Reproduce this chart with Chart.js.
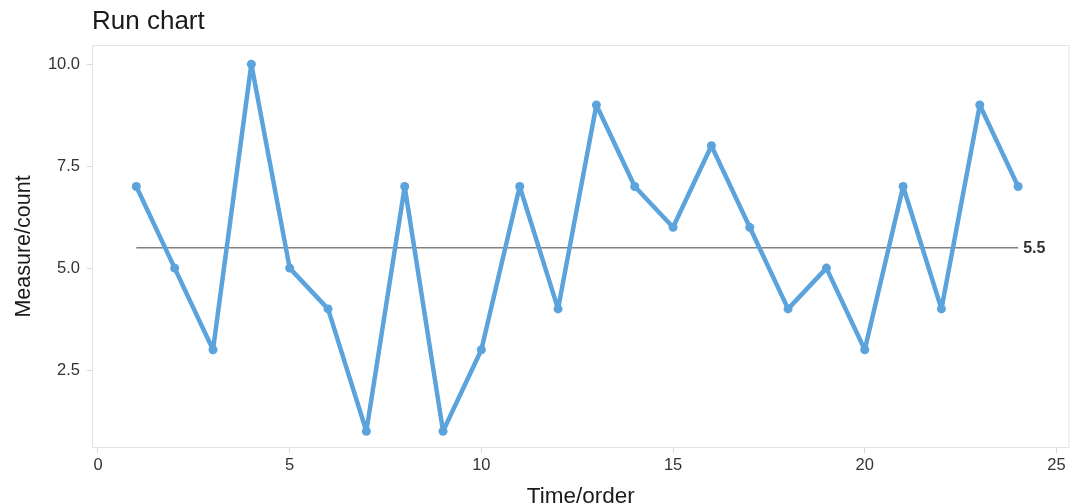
<!DOCTYPE html>
<html>
<head>
<meta charset="utf-8">
<script src="https://cdn.jsdelivr.net/npm/chart.js@4"></script>
<style>
  html, body { margin: 0; padding: 0; background: #fff; }
  #wrap { width: 1074px; height: 504px; }
</style>
</head>
<body>
<div id="wrap"><canvas id="c"></canvas></div>
<script>
const order = [1,2,3,4,5,6,7,8,9,10,11,12,13,14,15,16,17,18,19,20,21,22,23,24];
const measure = [7,5,3,10,5,4,1,7,1,3,7,4,9,7,6,8,6,4,5,3,7,4,9,7];
const medianValue = 5.5;
const xTicks = [0,5,10,15,20,25];
const yTicks = [2.5,5,7.5,10];

const points = order.map((x, i) => ({x: x, y: measure[i]}));
const medianLine = [{x: order[0], y: medianValue}, {x: order[order.length-1], y: medianValue}];

const FONT = "'Liberation Sans', Arial, Helvetica, sans-serif";
const blue = 'rgb(91,163,220)';

const framePlugin = {
  id: 'frame',
  beforeDatasetsDraw(chart) {
    const {ctx, chartArea: a} = chart;
    ctx.save();
    ctx.strokeStyle = '#e4e4e4';
    ctx.lineWidth = 1;
    ctx.strokeRect(a.left + 0.5, a.top + 0.5, a.right - a.left - 1, a.bottom - a.top - 1);
    ctx.restore();
  },
  afterDatasetsDraw(chart) {
    const {ctx} = chart;
    const xs = chart.scales.x, ys = chart.scales.y;
    ctx.save();
    ctx.font = "bold 16px " + FONT;
    ctx.fillStyle = '#333';
    ctx.textBaseline = 'middle';
    ctx.textAlign = 'left';
    ctx.fillText(medianValue.toFixed(1), xs.getPixelForValue(order[order.length-1]) + 5, ys.getPixelForValue(medianValue) + 1);
    ctx.restore();
  }
};

new Chart(document.getElementById('c'), {
  type: 'line',
  data: {
    datasets: [
      {
        data: medianLine,
        borderColor: '#808080',
        borderWidth: 1.5,
        pointRadius: 0,
        order: 2
      },
      {
        data: points,
        borderColor: blue,
        backgroundColor: blue,
        borderWidth: 4.5,
        borderJoinStyle: 'round',
        borderCapStyle: 'round',
        pointRadius: 4.5,
        pointHoverRadius: 4.5,
        pointBorderWidth: 0,
        tension: 0,
        order: 1
      }
    ]
  },
  options: {
    responsive: true,
    maintainAspectRatio: false,
    animation: false,
    layout: { padding: { left: 0, right: 4, top: 0, bottom: 0 } },
    plugins: {
      legend: { display: false },
      tooltip: { enabled: false },
      title: {
        display: true,
        text: 'Run chart',
        align: 'start',
        fullSize: false,
        color: '#1a1a1a',
        font: { family: FONT, size: 26, weight: 'normal', lineHeight: 1.2 },
        padding: { top: 6.5, bottom: 7.3 }
      }
    },
    scales: {
      x: {
        type: 'linear',
        min: -0.156,
        max: 25.34,
        afterBuildTicks(scale) { scale.ticks = xTicks.map(v => ({value: v})); },
        afterFit(scale) { scale.height = 56; },
        grid: { display: true, drawOnChartArea: false, drawTicks: true, tickLength: 5, color: '#d8d8d8' },
        border: { display: false },
        ticks: { color: '#333', font: { family: FONT, size: 16.5 }, padding: 3, maxRotation: 0,
          callback: v => String(v) },
        title: { display: true, text: 'Time/order', color: '#1a1a1a', font: { family: FONT, size: 22.5, lineHeight: 0.6 }, padding: { top: 1.5, bottom: 0 } }
      },
      y: {
        type: 'linear',
        min: 0.59,
        max: 10.47,
        afterBuildTicks(scale) { scale.ticks = yTicks.map(v => ({value: v})); },
        afterFit(scale) { scale.width = 92; },
        grid: { display: true, drawOnChartArea: false, drawTicks: true, tickLength: 5, color: '#d8d8d8' },
        border: { display: false },
        ticks: { color: '#333', font: { family: FONT, size: 16.5 }, padding: 7,
          callback: v => Number(v).toFixed(1) },
        title: { display: true, text: 'Measure/count', color: '#1a1a1a', font: { family: FONT, size: 21.5, lineHeight: 0.6 }, padding: { top: 17.5, bottom: 0 } }
      }
    }
  },
  plugins: [framePlugin]
});
</script>
</body>
</html>
